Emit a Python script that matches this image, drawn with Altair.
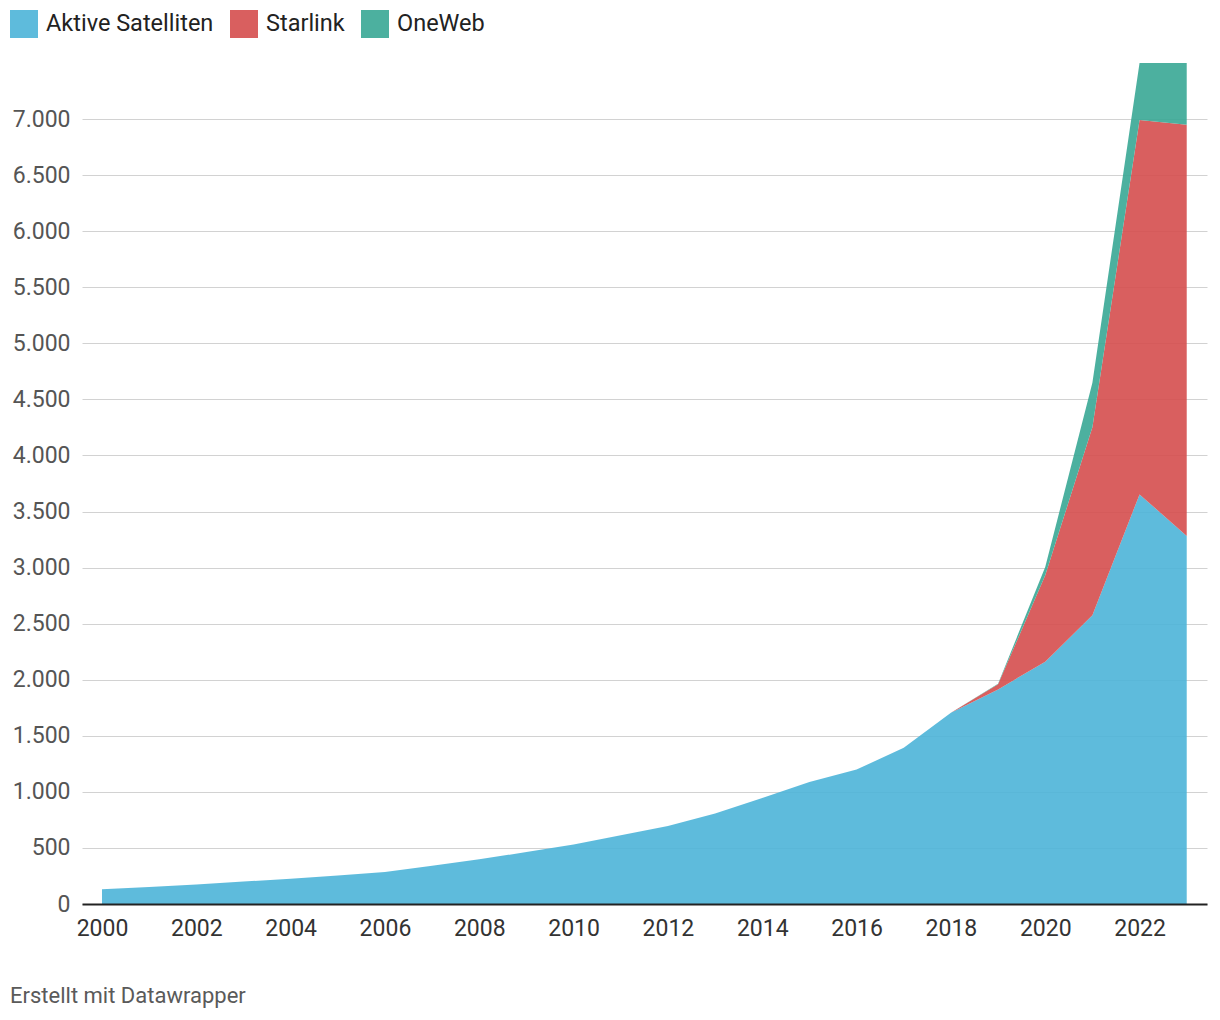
import altair as alt
import pandas as pd

years = list(range(2000, 2024))
aktive = [131, 152, 173, 200, 226, 255, 286, 342, 399, 463, 530, 613,
          696, 807, 946, 1089, 1199, 1393, 1705, 1914, 2161, 2574, 3653, 3282]
starlink = [0] * 18 + [0, 45, 770, 1677, 3338, 3668]
oneweb = [0] * 18 + [0, 6, 74, 398, 510, 640]

series_names = ["Aktive Satelliten", "Starlink", "OneWeb"]
series_colors = ["#4cb4d8", "#d54e4e", "#38a795"]
x_ticks = list(range(2000, 2023, 2))
y_ticks = list(range(0, 7001, 500))

rows = []
for i, (name, vals) in enumerate(zip(series_names, [aktive, starlink, oneweb])):
    for y, v in zip(years, vals):
        if i > 0 and y < 2018:
            continue
        rows.append({"Jahr": y, "Serie": name, "Wert": v, "idx": i})
df = pd.DataFrame(rows)

chart = alt.Chart(df).mark_area(opacity=0.9, clip=True).encode(
    x=alt.X("Jahr:Q",
            scale=alt.Scale(domain=[1999.576, 2023.43], nice=False, zero=False),
            axis=alt.Axis(values=x_ticks, format="d", title=None, grid=False,
                          ticks=False, domainColor="#222", domainWidth=2,
                          labelFontSize=23, labelFont="Roboto", labelColor="#333",
                          labelPadding=13, zindex=1)),
    y=alt.Y("Wert:Q", stack="zero",
            scale=alt.Scale(domain=[0, 7500], nice=False),
            axis=alt.Axis(values=y_ticks, title=None, domain=False, ticks=False,
                          gridColor="#d2d2d2", gridWidth=1,
                          labelExpr="replace(format(datum.value, ','), ',', '.')",
                          labelFontSize=23, labelFont="Roboto", labelColor="#555",
                          labelPadding=12)),
    color=alt.Color("Serie:N",
                    scale=alt.Scale(domain=series_names, range=series_colors),
                    legend=alt.Legend(orient="none", legendX=-72, legendY=-53,
                                      direction="horizontal", title=None,
                                      symbolType="square", symbolSize=784,
                                      symbolStrokeWidth=0, symbolOpacity=0.9,
                                      labelFontSize=23.5, labelFont="Roboto",
                                      labelColor="#222", labelOffset=8,
                                      columnPadding=16, padding=0, labelLimit=400)),
    order=alt.Order("idx:Q", sort="ascending"),
).properties(
    width=1125,
    height=841,
    autosize=alt.AutoSizeParams(type="none"),
    padding={"left": 74, "top": 55, "right": 5, "bottom": 110},
    title=alt.TitleParams("Erstellt mit Datawrapper", orient="bottom", anchor="start",
                          frame="bounds", fontSize=22, font="Roboto",
                          color="#5a5a5a", fontWeight="normal",
                          baseline="alphabetic", offset=63),
).configure_view(stroke=None)

chart.save("out.html", embed_options={"renderer": "svg", "actions": False})
